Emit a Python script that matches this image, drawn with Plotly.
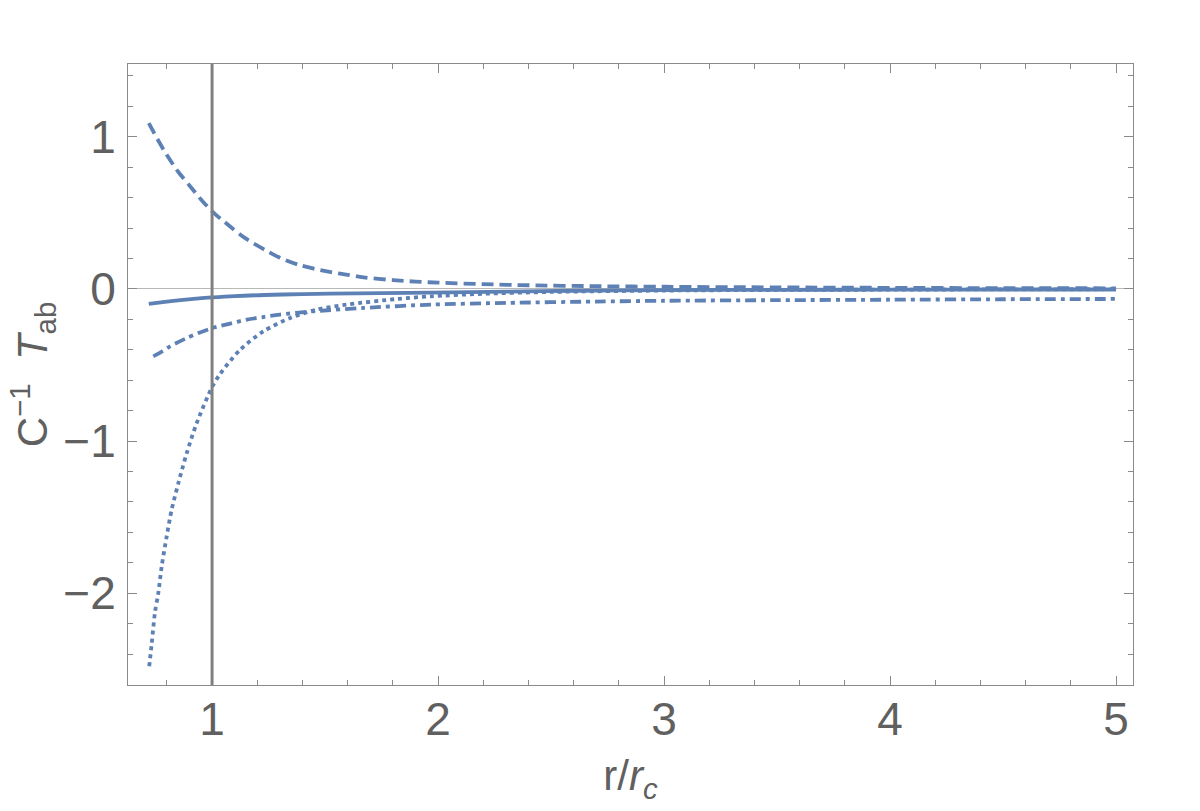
import plotly.graph_objects as go

# ---- data ----
dashed_x = [0.72, 0.76, 0.80, 0.85, 0.90, 0.95, 1.00, 1.08, 1.15, 1.23, 1.30, 1.38, 1.45, 1.52, 1.60, 1.67, 1.80, 1.90, 2.00, 2.20, 2.40, 2.70, 3.00, 3.50, 4.00, 4.50, 5.00]
dashed_y = [1.09, 0.98, 0.88, 0.77, 0.68, 0.59, 0.51, 0.41, 0.33, 0.26, 0.205, 0.16, 0.133, 0.112, 0.092, 0.076, 0.058, 0.048, 0.041, 0.031, 0.024, 0.018, 0.014, 0.010, 0.007, 0.005, 0.004]

solid_x = [0.72, 0.80, 0.86, 0.93, 1.00, 1.10, 1.23, 1.40, 1.52, 1.75, 1.97, 2.30, 2.60, 3.00, 3.50, 4.00, 4.50, 5.00]
solid_y = [-0.099, -0.084, -0.074, -0.064, -0.056, -0.047, -0.040, -0.034, -0.031, -0.028, -0.025, -0.018, -0.012, -0.008, -0.006, -0.005, -0.004, -0.004]

dashdot_x = [0.74, 0.78, 0.814, 0.85, 0.888, 0.94, 1.00, 1.08, 1.153, 1.23, 1.30, 1.45, 1.67, 1.97, 2.30, 2.70, 3.00, 3.50, 4.00, 4.50, 5.00]
dashdot_y = [-0.443, -0.41, -0.378, -0.35, -0.323, -0.29, -0.258, -0.228, -0.202, -0.184, -0.169, -0.147, -0.125, -0.103, -0.092, -0.083, -0.078, -0.074, -0.071, -0.068, -0.066]

dotted_x = [0.722, 0.733, 0.747, 0.762, 0.777, 0.799, 0.821, 0.851, 0.888, 0.932, 1.00, 1.035, 1.124, 1.227, 1.346, 1.464, 1.597, 1.819, 1.967, 2.20, 2.50, 3.00, 3.50, 4.00, 4.50, 5.00]
dotted_y = [-2.48, -2.33, -2.13, -2.00, -1.825, -1.628, -1.452, -1.276, -1.079, -0.882, -0.645, -0.56, -0.40, -0.279, -0.191, -0.136, -0.103, -0.066, -0.049, -0.032, -0.020, -0.011, -0.007, -0.005, -0.003, -0.002]

horizon_r = 1.0
x_range = [0.628, 5.075]
y_range = [-2.603, 1.478]

line_color = "#5E81B5"
frame_color = "#8a8a8a"
text_color = "#606060"
font_family = "Liberation Sans Narrow, Liberation Sans, Arial, sans-serif"

fig = go.Figure()
series = [
    (solid_x, solid_y, "solid"),
    (dashed_x, dashed_y, "12px,6px"),
    (dashdot_x, dashdot_y, "11px,5px,4px,5px"),
    (dotted_x, dotted_y, "4px,4px"),
]
for xs, ys, dash in series:
    fig.add_trace(go.Scatter(x=xs, y=ys, mode="lines",
                             line=dict(color=line_color, width=3.8, dash=dash, shape="spline", smoothing=0.8),
                             showlegend=False, hoverinfo="skip"))

fig.add_vline(x=horizon_r, line_color="#808080", line_width=3)

axis_common = dict(
    showline=True, linecolor=frame_color, linewidth=1, mirror="ticks",
    ticks="inside", ticklen=9, tickwidth=1, tickcolor=frame_color,
    showgrid=False, tickfont=dict(size=46, color=text_color, family=font_family),
    minor=dict(ticks="inside", ticklen=5, tickwidth=1, tickcolor=frame_color, showgrid=False),
)

fig.update_xaxes(range=x_range, tickmode="linear", tick0=0, dtick=1, zeroline=False,
                 ticklabelstandoff=-6,
                 minor_dtick=0.2, minor_tick0=0,
                 title=dict(text="r/<i>r</i><sub><i>c</i></sub>", standoff=16,
                            font=dict(size=42, color=text_color, family=font_family)),
                 **axis_common)
fig.update_yaxes(range=y_range, tickmode="linear", tick0=0, dtick=1,
                 zeroline=True, zerolinecolor="#b8b8b8", zerolinewidth=1,
                 ticklabelstandoff=2,
                 minor_dtick=0.2, minor_tick0=0,
                 title=dict(text="C<sup>\u22121</sup>\u00a0\u00a0<i>T</i><sub>ab</sub>", standoff=2,
                            font=dict(size=42, color=text_color, family=font_family)),
                 **axis_common)

fig.update_layout(width=1200, height=811, plot_bgcolor="white", paper_bgcolor="white",
                  margin=dict(l=128, r=67, t=64, b=126, autoexpand=False))

fig.write_html("out.html")
